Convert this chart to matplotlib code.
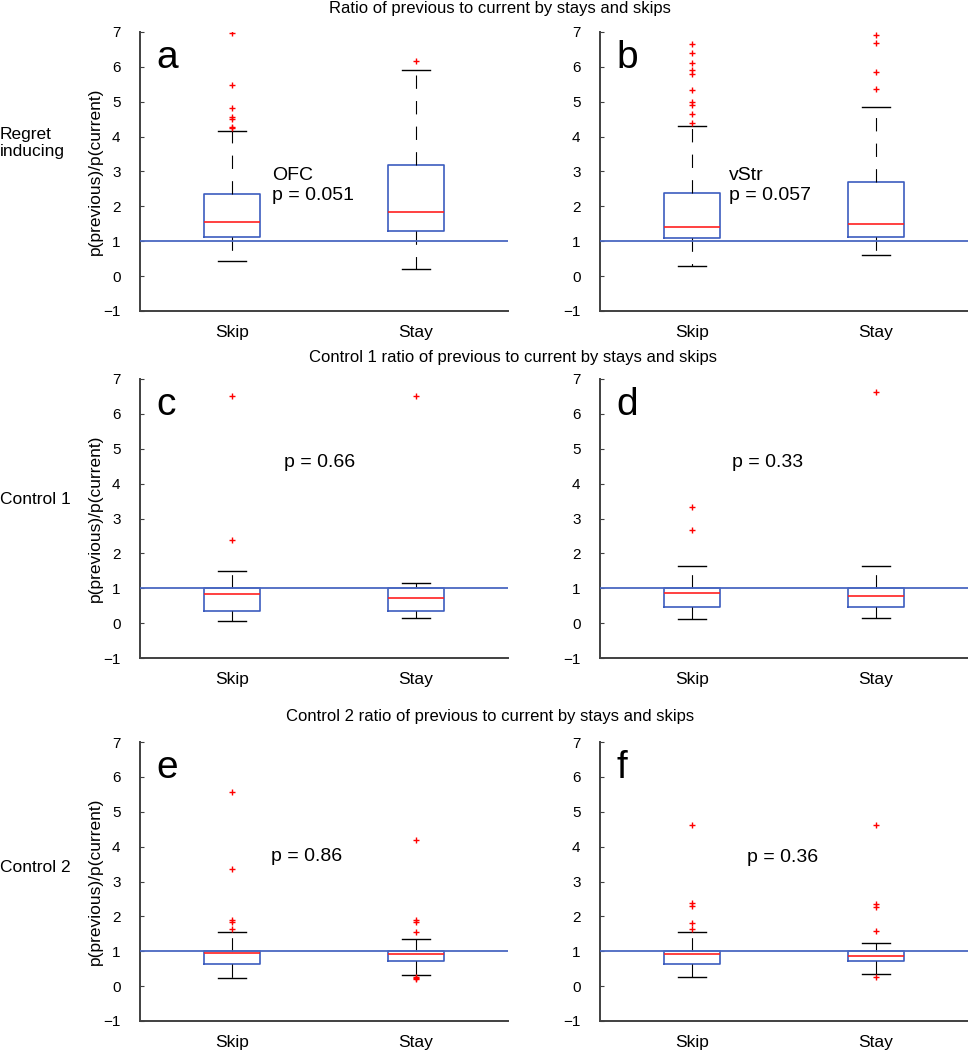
import matplotlib
matplotlib.use('Agg')
import matplotlib.pyplot as plt

plt.rcParams['font.family'] = ['Liberation Sans', 'DejaVu Sans']

# groups on the x axis
groups = ['Skip', 'Stay']
letters = ['a', 'b', 'c', 'd', 'e', 'f']

# box statistics, per panel: [Skip, Stay]
q1 = [[1.13, 1.29], [1.08, 1.12],
      [0.36, 0.35], [0.46, 0.47],
      [0.64, 0.73], [0.63, 0.72]]
med = [[1.54, 1.83], [1.42, 1.50],
       [0.83, 0.71], [0.87, 0.79],
       [0.94, 0.93], [0.91, 0.86]]
q3 = [[2.36, 3.19], [2.38, 2.71],
      [1.00, 1.00], [1.00, 1.00],
      [1.00, 1.00], [1.00, 1.00]]
whislo = [[0.44, 0.20], [0.30, 0.62],
          [0.06, 0.14], [0.12, 0.14],
          [0.22, 0.32], [0.27, 0.35]]
whishi = [[4.17, 5.90], [4.30, 4.86],
          [1.50, 1.15], [1.64, 1.64],
          [1.56, 1.36], [1.55, 1.24]]
fliers = [
    [[6.96, 5.48, 4.81, 4.55, 4.51, 4.28, 4.26], [6.16]],
    [[6.65, 6.41, 6.10, 5.90, 5.81, 5.33, 4.98, 4.92, 4.64, 4.38], [6.92, 6.69, 5.86, 5.36]],
    [[6.51, 2.39], [6.51]],
    [[3.34, 2.66], [6.62]],
    [[5.57, 3.36, 1.89, 1.84, 1.65], [4.19, 1.90, 1.83, 1.55, 0.27, 0.24, 0.21]],
    [[4.63, 2.37, 2.29, 1.80, 1.63], [4.63, 2.35, 2.28, 1.57, 0.25]],
]

# annotation text and its place (data coords)
notes = ['OFC\np = 0.051', 'vStr\np = 0.057', 'p = 0.66', 'p = 0.33', 'p = 0.86', 'p = 0.36']
note_xy = [(1.22, 2.6), (1.20, 2.6), (1.28, 4.62), (1.22, 4.62), (1.21, 3.73), (1.30, 3.70)]

row_titles = ['Ratio of previous to current by stays and skips',
              'Control 1 ratio of previous to current by stays and skips',
              'Control 2 ratio of previous to current by stays and skips']
row_labels = ['Regret\ninducing', 'Control 1', 'Control 2']

W, H = 968, 1050
fig = plt.figure(figsize=(W / 100, H / 100), dpi=100)

box_col = '#3c5cbf'
line_col = '#4a68c2'
axis_col = '#404040'

lefts = [140, 600]
bottoms = [311, 658, 1021]
aw, ah = 368, 279

for i in range(6):
    r, c = divmod(i, 2)
    ax = fig.add_axes([lefts[c] / W, 1 - bottoms[r] / H, aw / W, ah / H])
    stats = []
    for j in range(2):
        stats.append(dict(med=med[i][j], q1=q1[i][j], q3=q3[i][j],
                          whislo=whislo[i][j], whishi=whishi[i][j],
                          fliers=fliers[i][j], label=groups[j]))
    ax.bxp(stats, positions=[1, 2], widths=0.3,
           boxprops=dict(color=box_col, lw=1.2),
           medianprops=dict(color='#ff2020', lw=1.2),
           whiskerprops=dict(color='black', lw=0.8, linestyle=(0, (12, 11))),
           capprops=dict(color='black', lw=1.0),
           flierprops=dict(marker='+', markeredgecolor='red', markersize=5, markeredgewidth=1.0))
    ax.axhline(1, color=line_col, lw=1.3, zorder=3)
    ax.set_xlim(0.5, 2.5)
    ax.set_ylim(-1, 7)
    ax.set_yticks(range(-1, 8))
    ax.spines['top'].set_visible(False)
    ax.spines['right'].set_visible(False)
    for s in ['left', 'bottom']:
        ax.spines[s].set_color(axis_col)
        ax.spines[s].set_linewidth(1.4)
    ax.tick_params(axis='y', direction='in', length=3, width=0.8, color=axis_col,
                   labelsize=11, pad=14)
    ax.tick_params(axis='x', length=0, labelsize=12.5, pad=10)
    ax.text(0.045, 0.87, letters[i], transform=ax.transAxes, fontsize=28,
            va='baseline', ha='left')
    ax.text(note_xy[i][0], note_xy[i][1], notes[i], fontsize=14,
            va='center', ha='left', linespacing=1.25)
    if c == 0:
        ax.set_ylabel('p(previous)/p(current)', fontsize=12.5)
        ax.yaxis.set_label_coords(-0.10, 0.5)

title_y = [8, 357, 717]
title_x = [500, 513, 490]
for k in range(3):
    fig.text(title_x[k] / W, 1 - title_y[k] / H, row_titles[k], fontsize=12,
             ha='center', va='center')

label_y = [143, 500, 867]
for k in range(3):
    fig.text(0.0, 1 - label_y[k] / H, row_labels[k], fontsize=12.5,
             ha='left', va='center', linespacing=1.2)

fig.savefig('out.png', dpi=100)
